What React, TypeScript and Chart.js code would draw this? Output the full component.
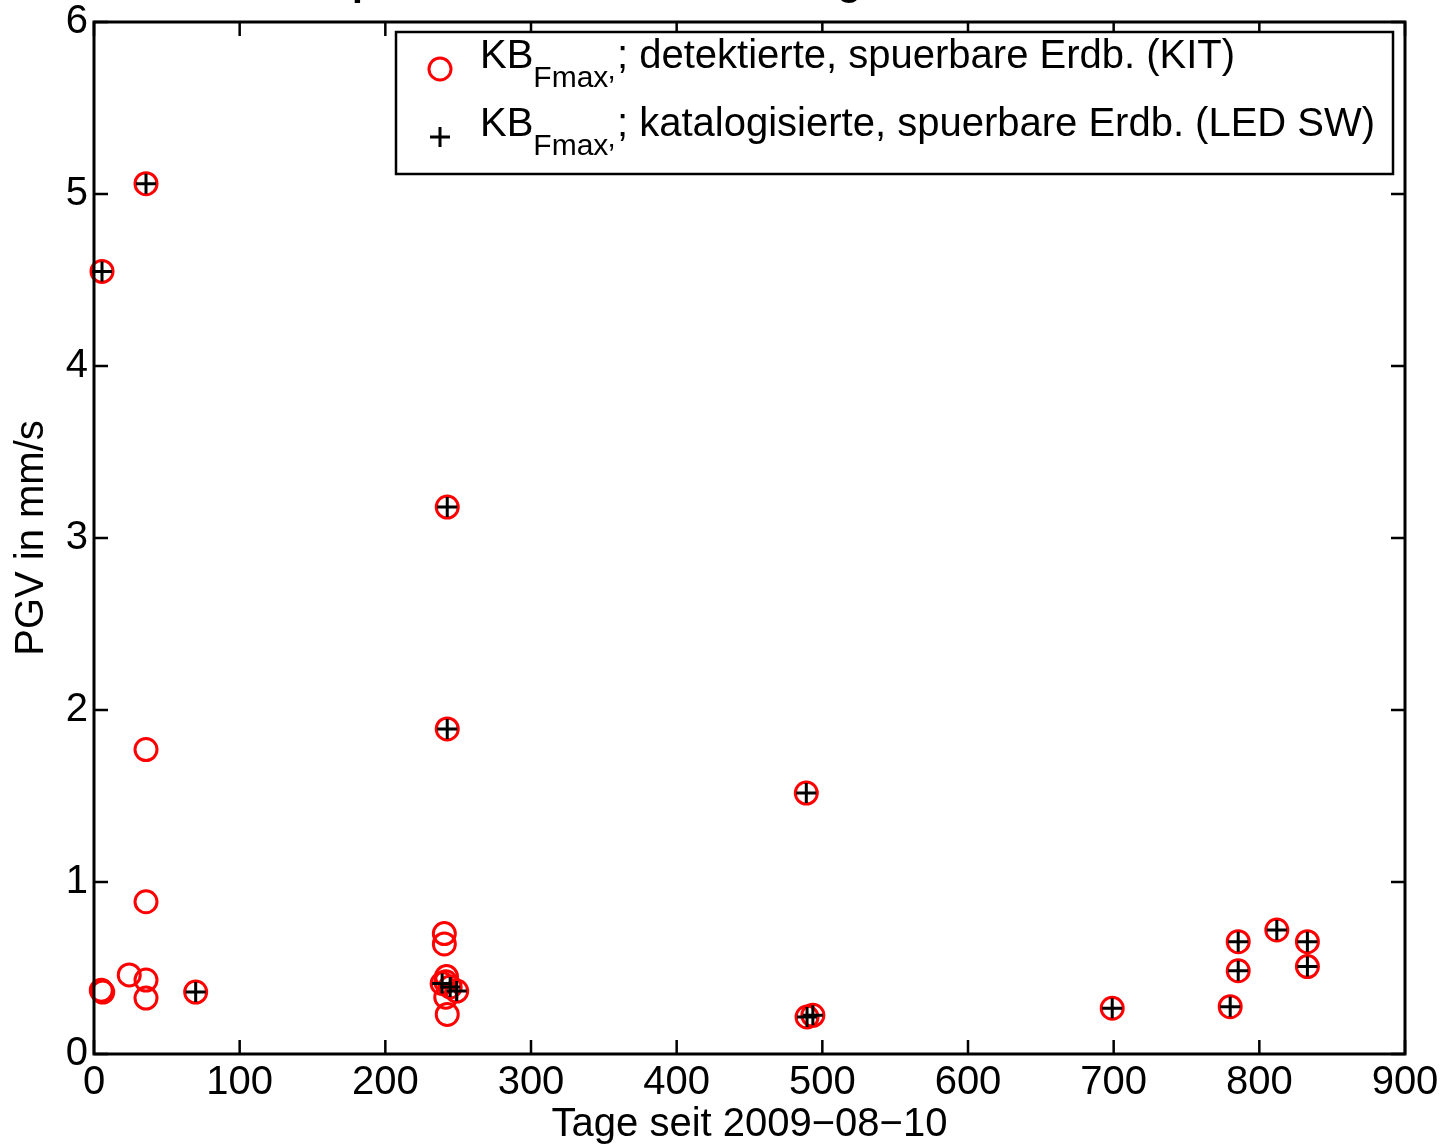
import { useEffect, useRef } from "react";
import { Chart, registerables } from "chart.js";

Chart.register(...registerables);

// PGV of felt earthquakes over time (days since 2009-08-10)
// KB_Fmax of events detected by KIT (red circles)
const kitDays = [
  5.5, 35.7, 35.7, 35.7, 5, 6, 24.2, 35.7, 35.7, 69.8,
  242.5, 242.5, 240.5, 240.5, 242, 241.5, 239, 244.5, 249, 241.5, 242.5,
  489, 489.5, 493.5, 699, 780, 785.5, 785.5, 812, 833, 833,
];
const kitPgv = [
  4.55, 5.06, 1.77, 0.885, 0.37, 0.36, 0.46, 0.43, 0.325, 0.36,
  3.18, 1.89, 0.7, 0.64, 0.45, 0.42, 0.41, 0.39, 0.366, 0.33, 0.23,
  1.517, 0.215, 0.225, 0.266, 0.275, 0.653, 0.484, 0.721, 0.653, 0.508,
];

// KB_Fmax of events listed in the LED SW catalogue (black plus)
const ledDays = [
  5.5, 35.7, 69.8, 242.5, 242.5, 239, 244.5, 249,
  489, 489.5, 493.5, 699, 780, 785.5, 785.5, 812, 833, 833,
];
const ledPgv = [
  4.55, 5.06, 0.36, 3.18, 1.89, 0.41, 0.39, 0.366,
  1.517, 0.215, 0.225, 0.266, 0.275, 0.653, 0.484, 0.721, 0.653, 0.508,
];

const xTicks = [0, 100, 200, 300, 400, 500, 600, 700, 800, 900];
const yTicks = [0, 1, 2, 3, 4, 5, 6];

const xTitle = "Tage seit 2009\u221208\u221210";
const yTitle = "PGV in mm/s";
const chartTitle = "Spuerbare Erdbeben im Vergleich";

const legendEntries = [
  { main: "KB", sub: "Fmax", rest: "; detektierte, spuerbare Erdb. (KIT)", marker: "circle" },
  { main: "KB", sub: "Fmax", rest: "; katalogisierte, spuerbare Erdb. (LED SW)", marker: "plus" },
];

const FONT = "'Liberation Sans', Arial, Helvetica, sans-serif";
const RED = "#ff0000";

const titlePlugin = {
  id: "cutTitle",
  afterDraw(chart: any) {
    const { ctx } = chart;
    ctx.save();
    ctx.fillStyle = "#000";
    ctx.font = `bold 39px ${FONT}`;
    ctx.textAlign = "left";
    ctx.textBaseline = "alphabetic";
    ctx.fillText(chartTitle, 326, -5);
    ctx.restore();
  },
};

const framePlugin = {
  id: "boxFrame",
  afterDatasetsDraw(chart: any) {
    const { ctx, chartArea, scales } = chart;
    const { left, right, top, bottom } = chartArea;
    const len = 14;
    ctx.save();
    ctx.strokeStyle = "#000";
    ctx.lineWidth = 2.5;
    ctx.beginPath();
    scales.x.ticks.forEach((t: any) => {
      const px = scales.x.getPixelForValue(t.value);
      ctx.moveTo(px, bottom);
      ctx.lineTo(px, bottom - len);
      ctx.moveTo(px, top);
      ctx.lineTo(px, top + len);
    });
    scales.y.ticks.forEach((t: any) => {
      const py = scales.y.getPixelForValue(t.value);
      ctx.moveTo(left, py);
      ctx.lineTo(left + len, py);
      ctx.moveTo(right, py);
      ctx.lineTo(right - len, py);
    });
    ctx.stroke();
    ctx.lineWidth = 3;
    ctx.strokeRect(left, top, right - left, bottom - top);
    ctx.restore();
  },
};

const legendPlugin = {
  id: "boxLegend",
  afterDatasetsDraw(chart: any) {
    const { ctx, chartArea } = chart;
    const bx = chartArea.left + 302;
    const by = chartArea.top + 10;
    const bw = chartArea.right - 12 - bx;
    const bh = 142;
    ctx.save();
    ctx.fillStyle = "#fff";
    ctx.fillRect(bx, by, bw, bh);
    ctx.strokeStyle = "#000";
    ctx.lineWidth = 2.5;
    ctx.strokeRect(bx, by, bw, bh);

    legendEntries.forEach((e, i) => {
      const base = by + 36 + i * 68;
      const mx = bx + 44;
      const my = base + 1;
      if (e.marker === "circle") {
        ctx.strokeStyle = RED;
        ctx.lineWidth = 3;
        ctx.beginPath();
        ctx.arc(mx, my, 11, 0, Math.PI * 2);
        ctx.stroke();
      } else {
        ctx.strokeStyle = "#000";
        ctx.lineWidth = 3;
        ctx.beginPath();
        ctx.moveTo(mx - 10, my);
        ctx.lineTo(mx + 10, my);
        ctx.moveTo(mx, my - 10);
        ctx.lineTo(mx, my + 10);
        ctx.stroke();
      }
      ctx.fillStyle = "#000";
      ctx.textAlign = "left";
      ctx.textBaseline = "alphabetic";
      let tx = bx + 84;
      ctx.font = `40px ${FONT}`;
      ctx.fillText(e.main, tx, base);
      tx += ctx.measureText(e.main).width;
      ctx.font = `30px ${FONT}`;
      ctx.fillText(e.sub, tx, base + 19);
      tx += ctx.measureText(e.sub).width;
      ctx.fillText("\u2019", tx, base + 28);
      tx += ctx.measureText("\u2019").width + 2;
      ctx.font = `40px ${FONT}`;
      ctx.fillText(e.rest, tx, base);
    });
    ctx.restore();
  },
};

export default function App() {
  const canvasRef = useRef<HTMLCanvasElement | null>(null);

  useEffect(() => {
    document.body.style.margin = "0";
    const canvas = canvasRef.current;
    if (!canvas) return;
    Chart.defaults.font.family = FONT;
    Chart.defaults.color = "#000";

    const chart = new Chart(canvas, {
      type: "scatter",
      data: {
        datasets: [
          {
            label: "LED SW",
            data: ledDays.map((d, i) => ({ x: d, y: ledPgv[i] })),
            pointStyle: "cross",
            pointRadius: 10,
            pointHoverRadius: 10,
            pointBorderWidth: 3,
            pointBorderColor: "#000",
            pointBackgroundColor: "#000",
            clip: false,
            order: 1,
          },
          {
            label: "KIT",
            data: kitDays.map((d, i) => ({ x: d, y: kitPgv[i] })),
            pointStyle: "circle",
            pointRadius: 11,
            pointHoverRadius: 11,
            pointBorderWidth: 3,
            pointBorderColor: RED,
            pointBackgroundColor: "rgba(0,0,0,0)",
            clip: false,
            order: 2,
          },
        ],
      },
      options: {
        animation: false,
        responsive: false,
        maintainAspectRatio: false,
        devicePixelRatio: 1,
        events: [],
        layout: { padding: { left: 0, top: 22, right: 38, bottom: 0 } },
        plugins: {
          legend: { display: false },
          tooltip: { enabled: false },
          title: { display: false },
        },
        scales: {
          x: {
            type: "linear",
            min: 0,
            max: 900,
            afterBuildTicks: (s: any) => {
              s.ticks = xTicks.map((v) => ({ value: v }));
            },
            afterFit: (s: any) => {
              s.height = 93;
            },
            grid: { display: false, drawTicks: false },
            border: { display: false },
            ticks: {
              font: { size: 40, lineHeight: 1.25 },
              color: "#000",
              padding: 4,
              maxRotation: 0,
              autoSkip: false,
            },
            title: {
              display: true,
              text: xTitle,
              color: "#000",
              font: { size: 40, lineHeight: 1.1 },
              padding: { top: 0, bottom: 0 },
            },
          },
          y: {
            type: "linear",
            min: 0,
            max: 6,
            afterBuildTicks: (s: any) => {
              s.ticks = yTicks.map((v) => ({ value: v }));
            },
            afterFit: (s: any) => {
              s.width = 94;
            },
            grid: { display: false, drawTicks: false },
            border: { display: false },
            ticks: {
              font: { size: 40, lineHeight: 0.8 },
              color: "#000",
              padding: 6,
              autoSkip: false,
            },
            title: {
              display: true,
              text: yTitle,
              color: "#000",
              font: { size: 40, lineHeight: 1.2 },
              padding: { top: 8, bottom: 0 },
            },
          },
        },
      },
      plugins: [framePlugin, legendPlugin, titlePlugin],
    } as any);

    return () => chart.destroy();
  }, []);

  return (
    <canvas
      ref={canvasRef}
      width={1443}
      height={1147}
      style={{ display: "block", width: "1443px", height: "1147px" }}
    />
  );
}
